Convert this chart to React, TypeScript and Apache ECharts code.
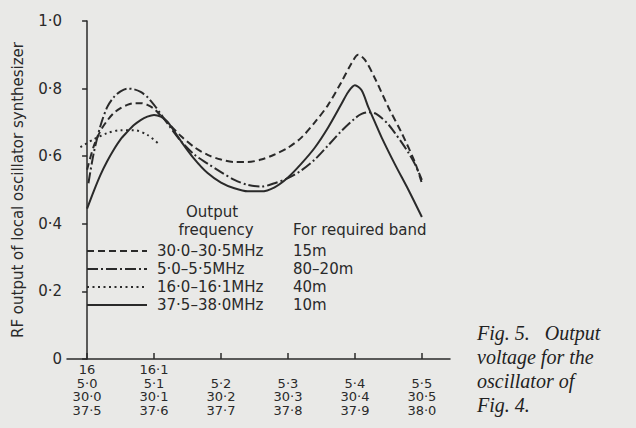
import React, { useEffect, useRef } from "react";
import * as echarts from "echarts";

// ---- data ----
const seriesNames = ["30·0–30·5MHz", "5·0–5·5MHz", "16·0–16·1MHz", "37·5–38·0MHz"];
const bands = ["15m", "80–20m", "40m", "10m"];

// x = tick index (0 … 5), y = RF output
const dashed30: number[][] = [
  [0, 0.56], [0.1, 0.63], [0.2, 0.675], [0.3, 0.705], [0.4, 0.728], [0.5, 0.742],
  [0.6, 0.752], [0.7, 0.757], [0.8, 0.757], [0.9, 0.752], [1.0, 0.74], [1.1, 0.72],
  [1.2, 0.7], [1.4, 0.66], [1.6, 0.627], [1.8, 0.604], [2.0, 0.59], [2.2, 0.583],
  [2.4, 0.583], [2.6, 0.59], [2.8, 0.605], [3.0, 0.625], [3.2, 0.655], [3.4, 0.7],
  [3.6, 0.752], [3.8, 0.82], [3.95, 0.875], [4.05, 0.9], [4.15, 0.885], [4.3, 0.83],
  [4.5, 0.745], [4.7, 0.668], [4.9, 0.58], [5.0, 0.52],
];
const dashDot5: number[][] = [
  [0.02, 0.52], [0.1, 0.61], [0.2, 0.69], [0.3, 0.745], [0.4, 0.775], [0.5, 0.792],
  [0.6, 0.8], [0.7, 0.798], [0.8, 0.79], [0.9, 0.775], [1.0, 0.752], [1.1, 0.725],
  [1.2, 0.697], [1.4, 0.645], [1.6, 0.605], [1.8, 0.578], [2.0, 0.553], [2.2, 0.53],
  [2.4, 0.515], [2.6, 0.51], [2.8, 0.52], [3.0, 0.535], [3.2, 0.558], [3.4, 0.59],
  [3.6, 0.632], [3.8, 0.675], [4.0, 0.712], [4.1, 0.725], [4.2, 0.73], [4.3, 0.727],
  [4.4, 0.713], [4.5, 0.694], [4.6, 0.668], [4.7, 0.64], [4.8, 0.61], [4.9, 0.575],
  [5.0, 0.53],
];
const dotted16: number[][] = [
  [-0.1, 0.627], [0.1, 0.65], [0.3, 0.668], [0.5, 0.677], [0.7, 0.677], [0.9, 0.663],
  [1.09, 0.633],
];
const solid37: number[][] = [
  [0, 0.445], [0.1, 0.497], [0.2, 0.545], [0.3, 0.585], [0.4, 0.62], [0.5, 0.65],
  [0.6, 0.672], [0.7, 0.692], [0.8, 0.707], [0.9, 0.717], [1.0, 0.722], [1.1, 0.717],
  [1.2, 0.702], [1.4, 0.645], [1.6, 0.592], [1.8, 0.55], [2.0, 0.522], [2.2, 0.505],
  [2.4, 0.496], [2.6, 0.496], [2.8, 0.508], [3.0, 0.537], [3.2, 0.578], [3.4, 0.625],
  [3.6, 0.685], [3.8, 0.755], [3.9, 0.79], [4.0, 0.81], [4.1, 0.795], [4.2, 0.745],
  [4.3, 0.7], [4.4, 0.655], [4.6, 0.575], [4.8, 0.5], [5.0, 0.42],
];
const seriesData = [dashed30, dashDot5, dotted16, solid37];

const xTickValues = [0, 1, 2, 3, 4, 5];
const xRow1 = ["16", "16·1", "", "", "", ""];
const xRow2 = ["5·0", "5·1", "5·2", "5·3", "5·4", "5·5"];
const xRow3 = ["30·0", "30·1", "30·2", "30·3", "30·4", "30·5"];
const xRow4 = ["37·5", "37·6", "37·7", "37·8", "37·9", "38·0"];

const yAxisTitle = "RF output of local oscillator synthesizer";
const captionLines = ["Fig. 5.   Output", "voltage for the", "oscillator of", "Fig. 4."];

// ---- styles ----
const INK = "#2a2a2a";
const BG = "#e9e9e7";
const SANS = "DejaVu Sans";
const dashTypes: any[] = [[7, 4], [11, 3, 2, 3], [2, 3.5], "solid"];

export default function App() {
  const ref = useRef<HTMLDivElement>(null);
  useEffect(() => {
    document.body.style.margin = "0";
    const chart = echarts.init(ref.current!, null, { renderer: "svg" });

    const legendRowsY = [251, 269, 287, 305];
    const legendGraphics: any[] = [];
    seriesNames.forEach((name, i) => {
      const y = legendRowsY[i];
      legendGraphics.push({
        type: "line",
        shape: { x1: 87, y1: y, x2: 147, y2: y },
        style: {
          stroke: INK,
          lineWidth: 2,
          lineDash: dashTypes[i] === "solid" ? null : dashTypes[i],
        },
      });
      legendGraphics.push({
        type: "text",
        x: 157,
        y,
        style: { text: name, fill: INK, font: `15px ${SANS}`, verticalAlign: "middle" },
      });
      legendGraphics.push({
        type: "text",
        x: 293,
        y,
        style: { text: bands[i], fill: INK, font: `15px ${SANS}`, verticalAlign: "middle" },
      });
    });

    chart.setOption({
      animation: false,
      backgroundColor: BG,
      grid: { left: 67, right: 186, top: 21, bottom: 69 },
      xAxis: {
        type: "value",
        min: -0.3,
        max: 5.42,
        axisLine: { show: true, lineStyle: { color: INK, width: 1.5 } },
        splitLine: { show: false },
        axisTick: {
          show: true,
          inside: true,
          length: 6,
          customValues: xTickValues,
          lineStyle: { color: INK, width: 1.5 },
        },
        axisLabel: {
          customValues: xTickValues,
          margin: 4,
          color: INK,
          fontFamily: SANS,
          fontSize: 13,
          lineHeight: 13.5,
          align: "center",
          verticalAlign: "top",
          formatter: (v: number) => {
            const i = Math.round(v);
            return [xRow1[i], xRow2[i], xRow3[i], xRow4[i]].join("\n");
          },
        },
      },
      yAxis: {
        type: "value",
        min: 0,
        max: 1,
        interval: 0.2,
        name: yAxisTitle,
        nameLocation: "middle",
        nameRotate: 90,
        nameGap: 42,
        nameTextStyle: { color: INK, fontFamily: SANS, fontSize: 15 },
        axisLine: { show: true, lineStyle: { color: INK, width: 1.5 } },
        splitLine: { show: false },
        axisTick: { show: true, inside: false, length: 5, lineStyle: { color: INK, width: 1.5 } },
        axisLabel: {
          margin: 5,
          color: INK,
          fontFamily: SANS,
          fontSize: 15,
          formatter: (v: number) => (v === 0 ? "0" : v.toFixed(1).replace(".", "·")),
        },
      },
      series: seriesData.map((d, i) => ({
        name: seriesNames[i],
        type: "line",
        data: d,
        smooth: 0.3,
        symbol: "none",
        showSymbol: false,
        lineStyle: { color: INK, width: 2, type: dashTypes[i] },
      })),
      graphic: [
        {
          type: "text",
          x: 212,
          y: 212,
          style: { text: "Output", fill: INK, font: `15px ${SANS}`, align: "center", verticalAlign: "middle" },
        },
        {
          type: "text",
          x: 216,
          y: 230,
          style: { text: "frequency", fill: INK, font: `15px ${SANS}`, align: "center", verticalAlign: "middle" },
        },
        {
          type: "text",
          x: 293,
          y: 230,
          style: { text: "For required band", fill: INK, font: `15px ${SANS}`, verticalAlign: "middle" },
        },
        ...legendGraphics,
        {
          type: "text",
          x: 477,
          y: 321,
          style: {
            text: captionLines.join("\n"),
            fill: "#222",
            font: `italic 20px "Liberation Serif"`,
            lineHeight: 24,
            verticalAlign: "top",
          },
        },
      ],
    });
    return () => chart.dispose();
  }, []);
  return <div ref={ref} style={{ width: 636, height: 428 }} />;
}
